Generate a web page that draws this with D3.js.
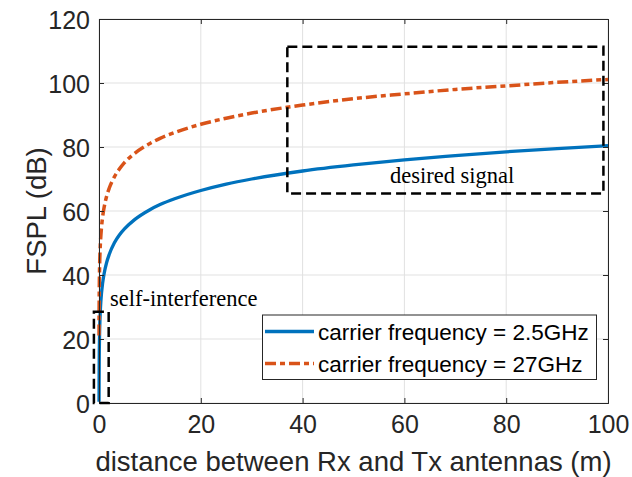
<!DOCTYPE html>
<html>
<head>
<meta charset="utf-8">
<script src="https://cdn.jsdelivr.net/npm/d3@7/dist/d3.min.js"></script>
<style>
  html, body { margin: 0; padding: 0; background: #ffffff; }
  svg { display: block; }
</style>
</head>
<body>
<svg id="chart" width="632" height="477"></svg>
<script>
// Distance between Rx and Tx antennas (m)
const distance = [0.01, 0.02, 0.05, 0.1, 0.2, 0.3, 0.5, 0.7, 1, 1.5, 2, 3, 4, 5, 7, 10, 12, 15, 20, 25, 30, 40, 50, 60, 70, 80, 90, 100];
// Free-space path loss (dB), carrier frequency = 2.5GHz
const fspl25 = [0.4, 6.4, 14.4, 20.4, 26.4, 30.0, 34.4, 37.3, 40.4, 43.9, 46.4, 50.0, 52.5, 54.4, 57.3, 60.4, 62.0, 63.9, 66.4, 68.4, 70.0, 72.5, 74.4, 76.0, 77.3, 78.5, 79.5, 80.4];
// Free-space path loss (dB), carrier frequency = 27GHz
const fspl27 = [21.1, 27.1, 35.0, 41.1, 47.1, 50.6, 55.0, 58.0, 61.1, 64.6, 67.1, 70.6, 73.1, 75.1, 78.0, 81.1, 82.7, 84.6, 87.1, 89.0, 90.6, 93.1, 95.1, 96.6, 98.0, 99.1, 100.2, 101.1];

const seriesNames = ["carrier frequency = 2.5GHz", "carrier frequency = 27GHz"];
const xTicks = [0, 20, 40, 60, 80, 100];
const yTicks = [0, 20, 40, 60, 80, 100, 120];

// Highlighted regions in data units: [x0, x1, y0, y1]
const selfRegion = [-1.0, 1.9, 0, 28.5];
const desiredRegion = [37.0, 99.1, 65.5, 111.3];
const regionLabels = ["self-interference", "desired signal"];

const svg = d3.select("#chart");
const plot = { left: 99, right: 608, top: 19, bottom: 403 };

const x = d3.scaleLinear().domain([0, 100]).range([plot.left, plot.right]);
const y = d3.scaleLinear().domain([0, 120]).range([plot.bottom, plot.top]);

const axisColor = "#262626";
const sans = "'Liberation Sans', Arial, Helvetica, sans-serif";
const serif = "'Liberation Serif', 'Times New Roman', serif";
const dashDot = "11,4,5,4";

// Grid
const grid = svg.append("g").attr("stroke", "#e1e1e1").attr("stroke-width", 1);
xTicks.forEach(t => {
  grid.append("line").attr("x1", x(t)).attr("x2", x(t)).attr("y1", plot.top).attr("y2", plot.bottom);
});
yTicks.forEach(t => {
  grid.append("line").attr("x1", plot.left).attr("x2", plot.right).attr("y1", y(t)).attr("y2", y(t));
});

// Curves
const line = d3.line().x((d, i) => x(distance[i])).y(d => y(d)).curve(d3.curveMonotoneX);

svg.append("path").datum(fspl25)
  .attr("d", line).attr("fill", "none")
  .attr("stroke", "#0072BD").attr("stroke-width", 3.3);

svg.append("path").datum(fspl27)
  .attr("d", line).attr("fill", "none")
  .attr("stroke", "#D95319").attr("stroke-width", 3.5)
  .attr("stroke-dasharray", dashDot);

// Axes with inward ticks, boxed
const tickLen = 5;
const axB = d3.axisBottom(x).tickValues(xTicks).tickSize(-tickLen).tickPadding(12).tickFormat(d3.format("d"));
const axL = d3.axisLeft(y).tickValues(yTicks).tickSize(-tickLen).tickPadding(9).tickFormat(d3.format("d"));
const axT = d3.axisTop(x).tickValues(xTicks).tickSize(-tickLen).tickFormat("");
const axR = d3.axisRight(y).tickValues(yTicks).tickSize(-tickLen).tickFormat("");

function styleAxis(g) {
  g.select(".domain").attr("stroke", axisColor).attr("stroke-width", 1);
  g.selectAll(".tick line").attr("stroke", axisColor).attr("stroke-width", 1);
  g.selectAll(".tick text").attr("fill", axisColor).attr("font-family", sans).attr("font-size", 25);
}

svg.append("g").attr("transform", `translate(0,${plot.bottom})`).call(axB).call(styleAxis)
  .selectAll(".tick text").attr("dy", "0.71em");
svg.append("g").attr("transform", `translate(${plot.left},0)`).call(axL).call(styleAxis)
  .selectAll(".tick text").attr("dy", "0.36em");
svg.append("g").attr("transform", `translate(0,${plot.top})`).call(axT).call(styleAxis);
svg.append("g").attr("transform", `translate(${plot.right},0)`).call(axR).call(styleAxis);

// Axis titles
svg.append("text")
  .attr("x", (plot.left + plot.right) / 2).attr("y", 471)
  .attr("text-anchor", "middle").attr("font-family", sans).attr("font-size", 27.5)
  .attr("fill", axisColor)
  .text("distance between Rx and Tx antennas (m)");

svg.append("text")
  .attr("transform", `translate(46,${(plot.top + plot.bottom) / 2}) rotate(-90)`)
  .attr("text-anchor", "middle").attr("font-family", sans).attr("font-size", 27.5)
  .attr("fill", axisColor)
  .text("FSPL (dB)");

// Dashed region boxes
function regionBox(r) {
  svg.append("rect")
    .attr("x", x(r[0])).attr("y", y(r[3]))
    .attr("width", x(r[1]) - x(r[0])).attr("height", y(r[2]) - y(r[3]))
    .attr("fill", "none").attr("stroke", "#000").attr("stroke-width", 2.5)
    .attr("stroke-dasharray", "10,5");
}
regionBox(selfRegion);
regionBox(desiredRegion);

svg.append("text")
  .attr("x", 110).attr("y", 306)
  .attr("font-family", serif).attr("font-size", 22.5).attr("fill", "#000")
  .text(regionLabels[0]);

svg.append("text")
  .attr("x", 390).attr("y", 182.5)
  .attr("font-family", serif).attr("font-size", 22.5).attr("fill", "#000")
  .text(regionLabels[1]);

// Legend
const legend = svg.append("g");
legend.append("rect")
  .attr("x", 262.5).attr("y", 315).attr("width", 334).attr("height", 64.5)
  .attr("fill", "#ffffff").attr("stroke", axisColor).attr("stroke-width", 1);

const legendStyles = [
  { color: "#0072BD", dash: null, width: 3.3 },
  { color: "#D95319", dash: dashDot, width: 3.5 }
];
const rowY = [331.5, 363.5];
seriesNames.forEach((name, i) => {
  const ln = legend.append("line")
    .attr("x1", 265).attr("x2", 314).attr("y1", rowY[i]).attr("y2", rowY[i])
    .attr("stroke", legendStyles[i].color).attr("stroke-width", legendStyles[i].width);
  if (legendStyles[i].dash) ln.attr("stroke-dasharray", legendStyles[i].dash);
  legend.append("text")
    .attr("x", 318).attr("y", rowY[i]).attr("dy", "0.36em")
    .attr("font-family", sans).attr("font-size", 22.5).attr("fill", "#000")
    .text(name);
});
</script>
</body>
</html>
